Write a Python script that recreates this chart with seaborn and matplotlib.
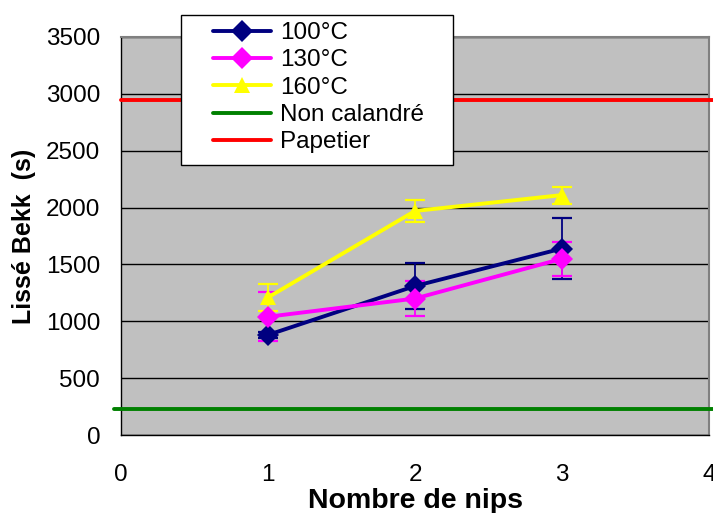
import numpy as np
import pandas as pd
import matplotlib
matplotlib.use("Agg")
import matplotlib.pyplot as plt
from matplotlib.lines import Line2D
from matplotlib.patches import Rectangle
import seaborn as sns

# Bekk smoothness vs number of nips for three calendering temperatures
nips = [1, 2, 3]
series_names = ["100°C", "130°C", "160°C"]
bekk_100 = [880, 1310, 1640]
bekk_130 = [1040, 1200, 1550]
bekk_160 = [1210, 1970, 2110]
err_100 = [30, 205, 270]
err_130 = [215, 150, 150]
err_160 = [120, 95, 75]

# reference levels
ref_names = ["Non calandré", "Papetier"]
ref_values = [230, 2950]

colors = {"100°C": "#000080", "130°C": "#FF00FF", "160°C": "#FFFF00"}
ref_colors = {"Non calandré": "#008000", "Papetier": "#FF0000"}
markers = {"100°C": "D", "130°C": "D", "160°C": "^"}

df = pd.DataFrame({
    "nips": nips * 3,
    "bekk": bekk_100 + bekk_130 + bekk_160,
    "err": err_100 + err_130 + err_160,
    "serie": [s for s in series_names for _ in nips],
})

sns.set_theme(style="white")
plt.rcParams["font.family"] = ["Liberation Sans", "DejaVu Sans"]
plt.rcParams["text.color"] = "black"
plt.rcParams["axes.labelcolor"] = "black"

W, H = 713, 513
fig = plt.figure(figsize=(W / 100, H / 100), dpi=100)
ax = fig.add_axes([121 / W, 78 / H, 588 / W, 398 / H])
ax.set_facecolor("#C0C0C0")

# error bars
for name in series_names:
    sub = df[df["serie"] == name]
    ax.errorbar(sub["nips"], sub["bekk"], yerr=sub["err"], fmt="none",
                ecolor=colors[name], elinewidth=1.3, capsize=7, capthick=1.6,
                zorder=3)

sns.lineplot(data=df, x="nips", y="bekk", hue="serie", style="serie",
             markers=markers, dashes=False, palette=colors, linewidth=2.8,
             markersize=11, markeredgewidth=0, ax=ax, zorder=4, legend=False)

for name, val in zip(ref_names, ref_values):
    ax.plot([-0.05 if name == "Non calandré" else 0, 4.03], [val, val],
            color=ref_colors[name], linewidth=2.8, clip_on=False, zorder=5)

ax.set_xlim(0, 4)
ax.set_ylim(0, 3500)
ax.set_xticks([0, 1, 2, 3, 4])
ax.set_yticks(np.arange(0, 3501, 500))
ax.yaxis.grid(True, color="black", linewidth=1.0)
ax.xaxis.grid(False)
ax.set_axisbelow(True)
for side in ["top", "right"]:
    ax.spines[side].set_color("#808080")
    ax.spines[side].set_linewidth(1.5)
for side in ["left", "bottom"]:
    ax.spines[side].set_color("black")
    ax.spines[side].set_linewidth(1.0)
ax.tick_params(axis="both", direction="out", length=7, width=1, color="black",
               labelsize=17.5, labelcolor="black")
ax.tick_params(axis="x", pad=14)
ax.tick_params(axis="y", pad=8)
ax.set_xlabel("Nombre de nips", fontsize=20.5, fontweight="bold", labelpad=1)
ax.set_ylabel("Lissé Bekk  (s)", fontsize=18, fontweight="bold", labelpad=7)

# legend box, drawn in figure pixels
fig.patches.append(Rectangle((181 / W, 1 - 165 / H), 272 / W, 150 / H,
                             transform=fig.transFigure, facecolor="white",
                             edgecolor="black", linewidth=1.0, zorder=10))
handles = [Line2D([], [], color=colors[n], marker=markers[n], markersize=11,
                  linewidth=2.8, markeredgewidth=0) for n in series_names]
handles += [Line2D([], [], color=ref_colors[n], linewidth=2.8) for n in ref_names]
leg = fig.legend(handles, series_names + ref_names, loc="upper left",
                 bbox_to_anchor=(213 / W, 1 - 22 / H), fontsize=17.5,
                 frameon=False, handlelength=2.4, labelspacing=0.22,
                 borderpad=0.0, handletextpad=0.35, borderaxespad=0,
                 labelcolor="black")
leg.set_zorder(11)

fig.savefig("out.png", dpi=100)
